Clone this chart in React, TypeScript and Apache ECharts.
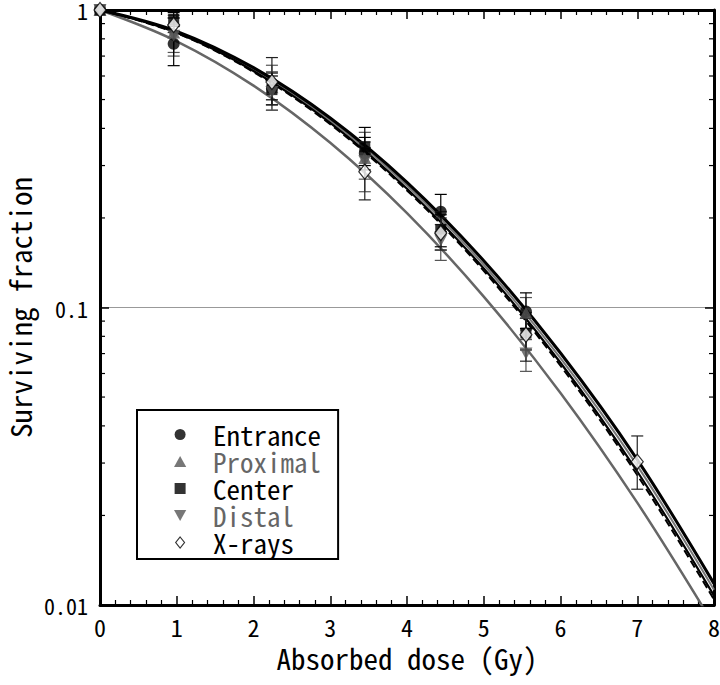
import React, { useEffect, useRef } from "react";
import * as echarts from "echarts";

const FONT = "'Noto Sans Mono CJK JP', 'Noto Sans CJK JP', 'DejaVu Sans Mono', monospace";

// Measured doses (Gy)
const doses = [0, 0.96, 2.24, 3.45, 4.44, 5.55, 7.0];

// Surviving fractions with error bar limits
const entrance = [1, 0.77, 0.545, 0.33, 0.21, 0.097];
const entranceLow = [1, 0.65, 0.48, 0.29, 0.18, 0.085];
const entranceHigh = [1, 0.89, 0.614, 0.373, 0.24, 0.112];

const proximal = [1, 0.84, 0.55, 0.318, 0.185, 0.096];
const proximalLow = [1, 0.72, 0.461, 0.245, 0.156, 0.084];
const proximalHigh = [1, 0.96, 0.652, 0.388, 0.21, 0.108];

const center = [1, 0.93, 0.54, 0.347, 0.183, 0.082];
const centerLow = [1, 0.88, 0.499, 0.3, 0.16, 0.072];
const centerHigh = [1, 0.98, 0.6, 0.403, 0.205, 0.092];

const distal = [1, 0.82, 0.53, 0.31, 0.168, 0.07];
const distalLow = [1, 0.7, 0.46, 0.27, 0.144, 0.061];
const distalHigh = [1, 0.94, 0.62, 0.36, 0.19, 0.078];

const xrays = [1, 0.89, 0.573, 0.286, 0.178, 0.081, 0.0303];
const xraysLow = [1, 0.84, 0.48, 0.23, 0.156, 0.066, 0.0245];
const xraysHigh = [1, 0.94, 0.692, 0.345, 0.2, 0.096, 0.037];

// Fitted survival curves read at each Gy
const curveDoses = [0, 1, 2, 3, 4, 5, 6, 7, 8];
const entranceCurve = [1, 0.848, 0.64, 0.4335, 0.2635, 0.1436, 0.0703, 0.0308, 0.0118];
const proximalCurve = [1, 0.843, 0.632, 0.4255, 0.2572, 0.1392, 0.0676, 0.0294, 0.01125];
const centerCurve = [1, 0.838, 0.624, 0.4178, 0.2508, 0.1352, 0.0652, 0.0281, 0.01075];
const xraysCurve = [1, 0.8354, 0.619, 0.413, 0.2475, 0.1328, 0.0637, 0.02734, 0.01044];
const distalCurve = [1, 0.785, 0.557, 0.3577, 0.2075, 0.1088, 0.0516, 0.02208, 0.00855];

// Axis ticks
const yMinorTicks = [0.02, 0.03, 0.04, 0.05, 0.06, 0.07, 0.08, 0.09, 0.2, 0.3, 0.4, 0.5, 0.6, 0.7, 0.8, 0.9];

const GRAY = "#555";

const pairs = (xs: number[], ys: number[]) => ys.map((y, i) => [xs[i], y]);

const errorBars = (vals: number[], lows: number[], highs: number[], color: string, z: number) => ({
  type: "custom",
  xAxisIndex: 0,
  yAxisIndex: 0,
  z,
  silent: true,
  clip: false,
  data: vals
    .map((_, i) => [doses[i], lows[i], highs[i]])
    .filter((d) => d[1] !== d[2]),
  encode: { x: 0, y: [1, 2] },
  renderItem: (params: any, api: any) => {
    const x = api.value(0);
    const pLo = api.coord([x, api.value(1)]);
    const pHi = api.coord([x, api.value(2)]);
    const w = 6;
    const style = { stroke: color, lineWidth: 1.2 };
    return {
      type: "group",
      children: [
        { type: "line", shape: { x1: pLo[0], y1: pLo[1], x2: pHi[0], y2: pHi[1] }, style },
        { type: "line", shape: { x1: pLo[0] - w, y1: pLo[1], x2: pLo[0] + w, y2: pLo[1] }, style },
        { type: "line", shape: { x1: pHi[0] - w, y1: pHi[1], x2: pHi[0] + w, y2: pHi[1] }, style },
      ],
    };
  },
});

const curve = (ys: number[], color: string, width: number, type: string, z: number) => ({
  type: "line",
  data: pairs(curveDoses, ys),
  smooth: 0.35,
  showSymbol: false,
  symbol: "none",
  clip: true,
  z,
  silent: true,
  lineStyle: { color, width, type },
});

const App: React.FC = () => {
  const ref = useRef<HTMLDivElement>(null);

  useEffect(() => {
    if (!ref.current) return;
    const chart = echarts.init(ref.current, null, { renderer: "svg" });

    const option: any = {
      animation: false,
      backgroundColor: "#fff",
      textStyle: { fontFamily: FONT },
      grid: { left: 100, right: 6, top: 10, bottom: 80, outerBoundsMode: "none", containLabel: false },
      legend: {
        orient: "vertical",
        left: 137,
        top: 410,
        padding: [11, 17, 3, 37],
        itemGap: 0,
        itemWidth: 56,
        itemHeight: 11,
        borderColor: "#000",
        borderWidth: 2,
        borderRadius: 0,
        selectedMode: false,
        textStyle: { fontFamily: FONT, fontSize: 27, fontWeight: 500, color: "#000", lineHeight: 27 },
        data: [
          { name: "Entrance", icon: "path://M5,0 A5,5 0 1,1 5,10 A5,5 0 1,1 5,0 Z" },
          { name: "Proximal", icon: "path://M5,0 L10,9 L0,9 Z", textStyle: { color: "#666" } },
          { name: "Center", icon: "path://M0,0 L10,0 L10,10 L0,10 Z" },
          { name: "Distal", icon: "path://M0,0 L10,0 L5,9 Z", textStyle: { color: "#666" } },
          {
            name: "X-rays",
            icon: "path://M4,0 L8,5 L4,10 L0,5 Z",
            itemStyle: { color: "#fff", borderColor: "#000", borderWidth: 1.2 },
          },
        ],
      },
      xAxis: [
        {
          type: "value",
          min: 0,
          max: 8,
          interval: 1,
          name: "Absorbed dose (Gy)",
          nameLocation: "middle",
          nameGap: 36,
          nameTextStyle: { fontFamily: FONT, fontSize: 29, fontWeight: 500, color: "#000" },
          axisLine: { onZero: false, lineStyle: { color: "#000", width: 3 } },
          axisTick: { inside: true, length: 9, lineStyle: { color: "#000", width: 1.5 } },
          minorTick: { show: true, splitNumber: 5, length: 5, lineStyle: { color: "#000", width: 1.2 } },
          axisLabel: { fontFamily: FONT, fontSize: 24, fontWeight: 500, color: "#000", margin: 9 },
          splitLine: { show: false },
        },
        {
          type: "value",
          position: "top",
          min: 0,
          max: 8,
          interval: 1,
          axisLine: { onZero: false, lineStyle: { color: "#000", width: 3 } },
          axisTick: { inside: true, length: 9, lineStyle: { color: "#000", width: 1.5 } },
          minorTick: { show: true, splitNumber: 5, length: 5, lineStyle: { color: "#000", width: 1.2 } },
          axisLabel: { show: false },
          splitLine: { show: false },
        },
      ],
      yAxis: [
        {
          type: "log",
          logBase: 10,
          min: 0.01,
          max: 1,
          name: "Surviving fraction",
          nameLocation: "middle",
          nameGap: 59,
          nameTextStyle: { fontFamily: FONT, fontSize: 29, fontWeight: 500, color: "#000" },
          axisLine: { onZero: false, lineStyle: { color: "#000", width: 3 } },
          axisTick: { inside: true, length: 9, lineStyle: { color: "#000", width: 1.5 } },
          axisLabel: {
            fontFamily: FONT,
            fontSize: 22,
            fontWeight: 500,
            color: "#000",
            margin: 12,
            formatter: (v: number) => String(Number(v.toPrecision(2))),
          },
          splitLine: { show: true, lineStyle: { color: "#999", width: 1 } },
        },
        {
          type: "log",
          logBase: 10,
          min: 0.01,
          max: 1,
          position: "right",
          axisLine: { onZero: false, lineStyle: { color: "#000", width: 3 } },
          axisTick: { inside: true, length: 9, lineStyle: { color: "#000", width: 1.5 } },
          axisLabel: { show: false },
          splitLine: { show: false },
        },
      ],
      series: [
        {
          type: "custom",
          silent: true,
          clip: false,
          z: 1,
          data: yMinorTicks.map((v) => [0, v]),
          encode: { x: 0, y: 1 },
          renderItem: (params: any, api: any) => {
            const p = api.coord([0, api.value(1)]);
            const cs = params.coordSys;
            const style = { stroke: "#000", lineWidth: 1.2 };
            return {
              type: "group",
              children: [
                { type: "line", shape: { x1: cs.x, y1: p[1], x2: cs.x + 5, y2: p[1] }, style },
                { type: "line", shape: { x1: cs.x + cs.width - 5, y1: p[1], x2: cs.x + cs.width, y2: p[1] }, style },
              ],
            };
          },
        },
        curve(distalCurve, "#666", 2.5, "solid", 2),
        curve(proximalCurve, "#777", 2, "solid", 2),
        curve(entranceCurve, "#000", 3, "solid", 3),
        curve(centerCurve, "#000", 2.2, "solid", 3),
        curve(xraysCurve, "#000", 2, "dashed", 3),
        errorBars(distal, distalLow, distalHigh, GRAY, 4),
        errorBars(proximal, proximalLow, proximalHigh, GRAY, 4),
        errorBars(entrance, entranceLow, entranceHigh, "#000", 4),
        errorBars(center, centerLow, centerHigh, "#000", 4),
        errorBars(xrays, xraysLow, xraysHigh, "#222", 4),
        {
          name: "Entrance",
          type: "scatter",
          z: 5,
          symbol: "circle",
          symbolSize: 12,
          itemStyle: { color: "#000" },
          data: pairs(doses, entrance),
        },
        {
          name: "Proximal",
          type: "scatter",
          z: 5,
          symbol: "triangle",
          symbolSize: [13, 12],
          itemStyle: { color: GRAY },
          data: pairs(doses, proximal),
        },
        {
          name: "Center",
          type: "scatter",
          z: 5,
          symbol: "rect",
          symbolSize: 11,
          itemStyle: { color: "#000" },
          data: pairs(doses, center),
        },
        {
          name: "Distal",
          type: "scatter",
          z: 5,
          symbol: "path://M0,0 L10,0 L5,9 Z",
          symbolSize: [13, 12],
          itemStyle: { color: GRAY },
          data: pairs(doses, distal),
        },
        {
          name: "X-rays",
          type: "scatter",
          z: 6,
          symbol: "diamond",
          symbolSize: [12, 15],
          itemStyle: { color: "#fff", borderColor: "#000", borderWidth: 1.2 },
          data: pairs(doses, xrays),
        },
      ],
    };

    chart.setOption(option);
    return () => chart.dispose();
  }, []);

  return (
    <div
      ref={ref}
      style={{ position: "fixed", left: 0, top: 0, width: 720, height: 685, background: "#fff" }}
    />
  );
};

export default App;
